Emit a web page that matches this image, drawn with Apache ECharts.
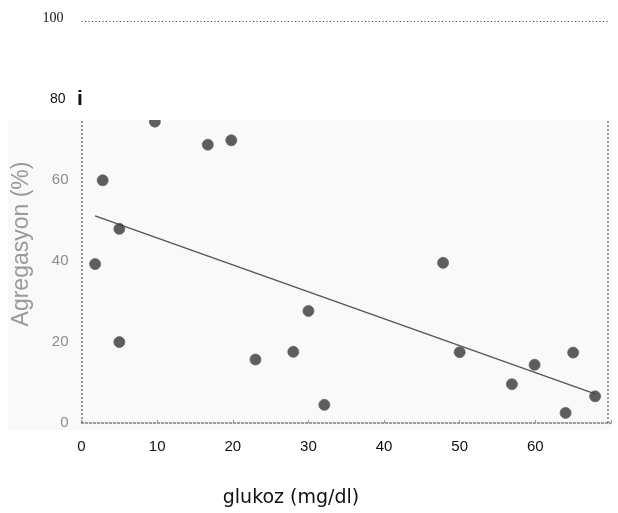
<!DOCTYPE html>
<html>
<head>
<meta charset="utf-8">
<script src="https://cdn.jsdelivr.net/npm/echarts@6/dist/echarts.min.js"></script>
<style>
  html, body { margin: 0; padding: 0; background: #fff; }
  #chart { width: 618px; height: 513px; }
</style>
</head>
<body>
<div id="chart"></div>
<script>
// glukoz (mg/dl) vs Agregasyon (%)
const glukoz = [1.8, 2.8, 5, 5, 9.7, 16.7, 19.8, 23, 28, 30, 32.1, 47.8, 50, 56.9, 59.9, 64, 65, 67.9];
const agregasyon = [39.3, 60, 48, 20, 74.5, 68.8, 69.9, 15.7, 17.6, 27.7, 4.5, 39.6, 17.5, 9.6, 14.4, 2.5, 17.4, 6.6];
const fitLine = [[1.8, 51.2], [67.9, 7.2]];
const xTicks = [0, 10, 20, 30, 40, 50, 60];
const yTicks = [0, 20, 40, 60, 80, 100];

const points = glukoz.map((g, i) => [g, agregasyon[i]]);

const chart = echarts.init(document.getElementById('chart'));

const frameStyle = { color: '#7a7a7a', type: [2, 2], width: 1.5 };

chart.setOption({
    animation: false,
    backgroundColor: '#fff',
    grid: { left: 81.5, right: 7, top: 18.5, bottom: 90 },
    graphic: [
        // scanned photo area
        { type: 'rect', z: -10, shape: { x: 8, y: 120, width: 604, height: 310 }, style: { fill: '#f9f9f9' } },
        { type: 'rect', z: 50, shape: { x: 84, y: 108, width: 530, height: 12 }, style: { fill: '#fff' } },
        { type: 'text', z: 60, x: 80, y: 99, style: { text: 'i', font: 'bold 21px "Liberation Sans"', fill: '#111', align: 'center', verticalAlign: 'middle' } },
        { type: 'text', z: 60, x: 22, y: 244, rotation: Math.PI / 2, style: { text: 'Agregasyon (%)', font: '23px "Liberation Sans"', fill: '#9a9a9a', align: 'center', verticalAlign: 'middle' } },
        { type: 'text', z: 60, x: 291, y: 498, style: { text: 'glukoz (mg/dl)', font: '19px "DejaVu Sans"', fill: '#111', align: 'center', verticalAlign: 'middle' } }
    ],
    xAxis: {
        type: 'value',
        min: 0,
        max: 70,
        interval: 10,
        axisLine: { show: true, lineStyle: frameStyle },
        axisTick: { show: true, inside: true, length: 3, lineStyle: { color: '#999' } },
        splitLine: { show: false },
        axisLabel: {
            margin: 16,
            color: '#111',
            fontSize: 15,
            fontFamily: 'Liberation Sans',
            formatter: v => xTicks.includes(v) ? String(v) : ''
        }
    },
    yAxis: {
        type: 'value',
        min: 0,
        max: 100,
        interval: 20,
        axisLine: { show: false },
        axisTick: { show: false },
        splitLine: { show: false },
        axisLabel: {
            margin: 13,
            formatter: v => {
                if (!yTicks.includes(v)) return '';
                if (v === 100) return '{t|' + v + '}';
                if (v === 80) return '{b|' + v + '}';
                return '{g|' + v + '}';
            },
            rich: {
                g: { color: '#8c8c8c', fontSize: 15, fontFamily: 'Liberation Sans' },
                b: { color: '#111', fontSize: 14, fontFamily: 'Liberation Sans', padding: [0, 3, 0, 0] },
                t: { color: '#111', fontSize: 14, fontFamily: 'Liberation Serif', padding: [0, 5, 0, 0] }
            }
        }
    },
    series: [
        {
            type: 'line',
            data: fitLine,
            symbol: 'none',
            lineStyle: { color: '#555', width: 1.5 },
            z: 3,
            markLine: {
                silent: true,
                symbol: 'none',
                label: { show: false },
                data: [
                    [{ coord: [0, 99.4], lineStyle: { color: '#333', type: [1, 2.5], width: 1 } }, { coord: [69.6, 99.4] }],
                    [{ coord: [0, 0], lineStyle: frameStyle }, { coord: [0, 75] }],
                    [{ coord: [69.6, 0], lineStyle: frameStyle }, { coord: [69.6, 75] }]
                ]
            }
        },
        {
            type: 'scatter',
            data: points,
            symbolSize: 11,
            itemStyle: { color: '#363636', borderColor: '#666', borderWidth: 1 },
            z: 4
        }
    ]
});
</script>
</body>
</html>
